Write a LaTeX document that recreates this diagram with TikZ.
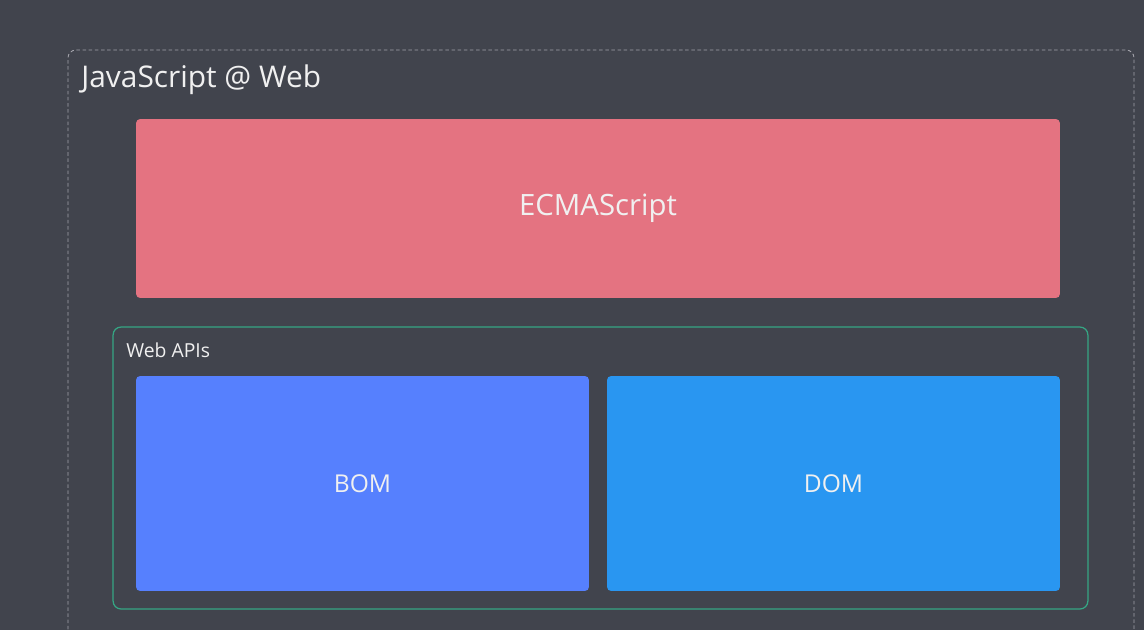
\documentclass[tikz,border=0pt]{standalone}
\usepackage{fontspec}
\setmainfont{Open Sans}
\usepackage{tikz}
\usetikzlibrary{positioning}
\definecolor{bgdark}{HTML}{41444D}
\definecolor{ecmared}{HTML}{E47381}
\definecolor{bomblue}{HTML}{5680FE}
\definecolor{domblue}{HTML}{2996F1}
\definecolor{apigreen}{HTML}{35A684}
\definecolor{framegray}{HTML}{A4A4AC}
\tikzstyle{block} = [rounded corners=2.3pt,inner sep=0pt,text=white!94!black,font=\fontsize{14}{17}\selectfont]
\tikzstyle{label} = [inner sep=0pt,text=white!94!black]

\begin{document}
\begin{tikzpicture}[x=0.02cm,y=-0.02cm]
    \clip (0,0) rectangle (1144,630);
    \fill [bgdark] (0,0) rectangle (1144,630);

    % outer frame
    \draw [framegray,dash pattern=on 2pt off 1.5pt,line width=0.5pt,rounded corners=4.5pt] (68,660) -- (68,50) -- (1134,50) -- (1134,660);
    \node [label,anchor=base west,font=\fontsize{17}{20}\selectfont] (title) at (81,87) {JavaScript @ Web};

    \node [block,fill=ecmared,minimum width=18.48cm,minimum height=3.58cm,font=\fontsize{16.7}{20}\selectfont] (ecma) at (598,208.5) {ECMAScript};

    \node [draw=apigreen,line width=0.7pt,rounded corners=4.5pt,minimum width=19.5cm,minimum height=5.64cm] (webapi) at (600.5,468) {};
    \node [label,anchor=base west,font=\fontsize{11}{13}\selectfont] (apis) at (126,357) {Web APIs};

    \node [block,fill=bomblue,minimum width=9.06cm,minimum height=4.3cm] (bom) at (362.5,483.5) {BOM};
    \node [block,fill=domblue,minimum width=9.06cm,minimum height=4.3cm] (dom) at (833.5,483.5) {DOM};
\end{tikzpicture}
\end{document}
